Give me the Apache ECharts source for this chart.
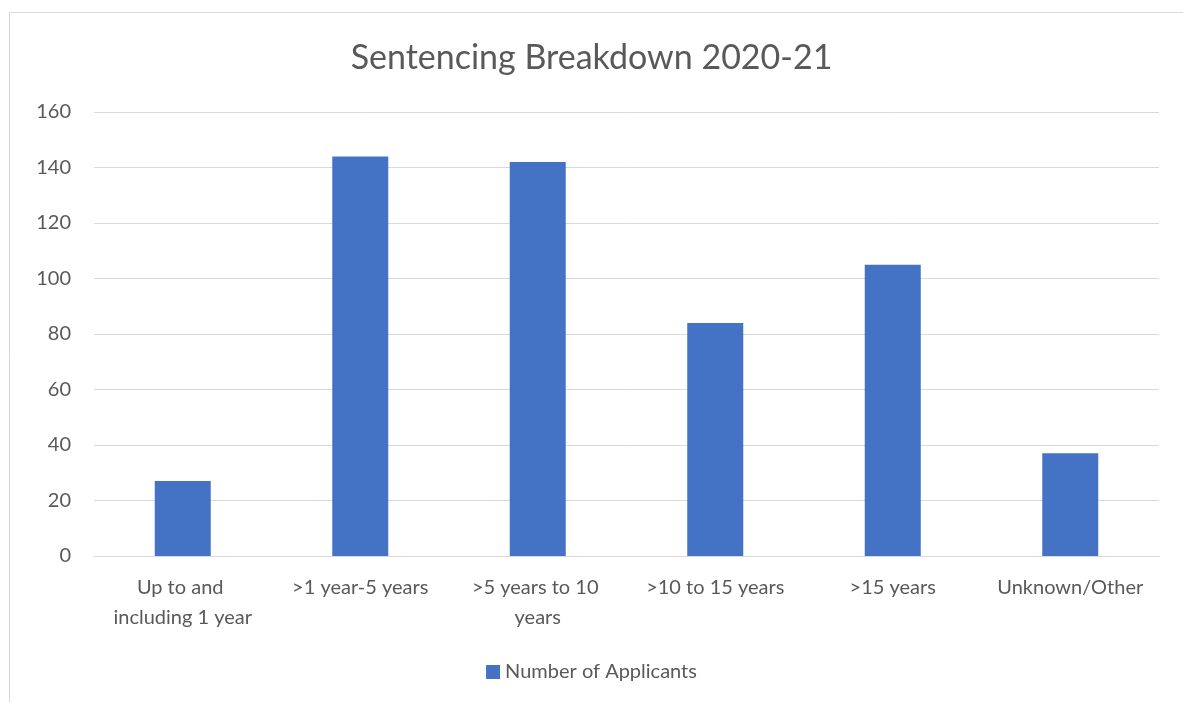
<!DOCTYPE html>
<html lang="en" style="height: 100%">
<head>
    <meta charset="UTF-8">
    <title>Sentencing Breakdown 2020-21</title>
    <script src="https://cdn.jsdelivr.net/npm/echarts@6/dist/echarts.min.js"></script>
</head>
<body style="height: 100%; margin: 0; background: #fff">
<div id="main" style="width: 1183px; height: 702px"></div>
<script>
    var categories = ['Up to and including 1 year', '>1 year-5 years', '>5 years to 10 years',
        '>10 to 15 years', '>15 years', 'Unknown/Other'];
    var applicants = [27, 144, 142, 84, 105, 37];
    var yTicks = {min: 0, max: 160, interval: 20};

    var font = 'Lato, "Open Sans", sans-serif';
    var grey = '#595959';

    var myChart = echarts.init(document.getElementById('main'));
    myChart.setOption({
        animation: false,
        textStyle: {fontFamily: font},
        graphic: [{
            type: 'rect',
            shape: {x: 9.5, y: 12.5, width: 1200, height: 720},
            style: {fill: 'none', stroke: '#d9d9d9', lineWidth: 1}
        }],
        title: {
            text: 'Sentencing Breakdown 2020-21',
            left: 'center',
            top: 36,
            textStyle: {fontFamily: font, fontSize: 34, fontWeight: 'normal', color: grey}
        },
        legend: {
            bottom: 15,
            left: 'center',
            icon: 'rect',
            itemWidth: 14,
            itemHeight: 14,
            itemGap: 6,
            textStyle: {fontFamily: font, fontSize: 20, color: grey},
            data: ['Number of Applicants']
        },
        grid: {left: 94, right: 24, top: 112, bottom: 146},
        xAxis: {
            type: 'category',
            data: categories,
            axisLine: {lineStyle: {color: '#d9d9d9', width: 1}},
            axisTick: {show: false},
            axisLabel: {
                color: grey, fontSize: 20, margin: 17, lineHeight: 30,
                width: 152, overflow: 'break', interval: 0
            }
        },
        yAxis: {
            type: 'value',
            min: yTicks.min,
            max: yTicks.max,
            interval: yTicks.interval,
            axisLine: {show: false},
            axisTick: {show: false},
            splitLine: {lineStyle: {color: '#d9d9d9', width: 1}},
            axisLabel: {color: grey, fontSize: 20, margin: 23}
        },
        series: [{
            name: 'Number of Applicants',
            type: 'bar',
            data: applicants,
            barWidth: 56,
            itemStyle: {color: '#4472c4'}
        }]
    });
</script>
</body>
</html>
